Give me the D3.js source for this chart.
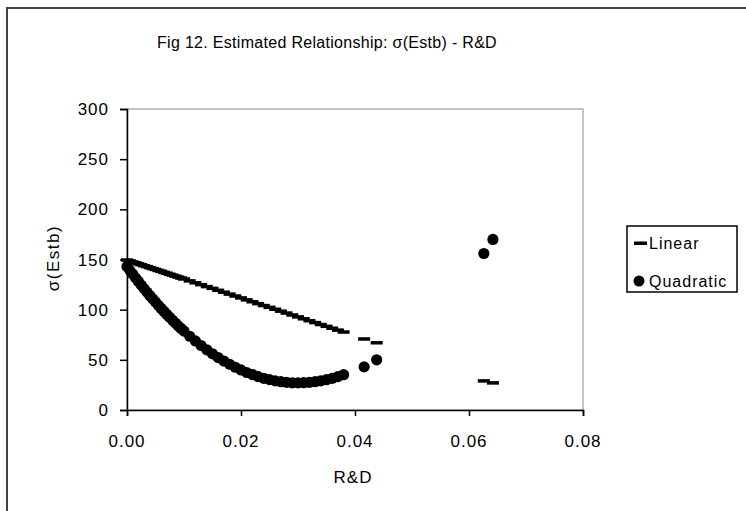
<!DOCTYPE html>
<html>
<head>
<meta charset="utf-8">
<script src="https://cdn.jsdelivr.net/npm/d3@7"></script>
<style>
  body { margin: 0; background: #fff; }
  text { font-family: "Liberation Sans", Arial, sans-serif; fill: #000; }
</style>
</head>
<body>
<div class="chart"></div>
<script>
const width = 746
const height = 511

// R&D values (shared by both series)
const rd = [0, 0.0005, 0.001, 0.0015, 0.002, 0.0025, 0.003, 0.0035, 0.004, 0.0045,
    0.005, 0.0055, 0.006, 0.0065, 0.007, 0.0075, 0.008, 0.0085, 0.009, 0.0095,
    0.010, 0.011, 0.012, 0.013, 0.014, 0.015, 0.016, 0.017, 0.018, 0.019,
    0.020, 0.021, 0.022, 0.023, 0.024, 0.025, 0.026, 0.027, 0.028, 0.029,
    0.030, 0.031, 0.032, 0.033, 0.034, 0.035, 0.036, 0.037, 0.038,
    0.0416, 0.0438, 0.0626, 0.0642]

const linear = [149.5, 148.6, 147.6, 146.7, 145.7, 144.8, 143.8, 142.9, 141.9, 141.0,
    140.1, 139.1, 138.2, 137.2, 136.3, 135.3, 134.4, 133.4, 132.5, 131.5,
    130.6, 128.7, 126.8, 124.9, 123.0, 121.2, 119.3, 117.4, 115.5, 113.6,
    111.7, 109.8, 107.9, 106.0, 104.1, 102.3, 100.4, 98.5, 96.6, 94.7,
    92.8, 90.9, 89.0, 87.1, 85.2, 83.4, 81.5, 79.6, 77.7,
    70.8, 67, 29, 27]

const quadratic = [143, 139.2, 135.4, 131.7, 128.1, 124.5, 121.0, 117.5, 114.1, 110.8,
    107.6, 104.4, 101.2, 98.2, 95.2, 92.3, 89.4, 86.6, 83.8, 81.2,
    78.6, 73.5, 68.8, 64.3, 60.0, 56.0, 52.3, 48.8, 45.6, 42.6,
    39.9, 37.4, 35.3, 33.3, 31.6, 30.3, 29.0, 28.2, 27.5, 27.1,
    27.0, 27.2, 27.5, 28.2, 29.1, 30.2, 31.6, 33.3, 35.2,
    43, 50, 156, 170]

const xTicks = [0, 0.02, 0.04, 0.06, 0.08]
const yTicks = [0, 50, 100, 150, 200, 250, 300]
const seriesNames = ["Linear", "Quadratic"]

const margin = { top: 109, right: 163, bottom: 101, left: 127 }
const innerWidth = width - margin.left - margin.right
const innerHeight = height - margin.top - margin.bottom

const svg = d3.select(".chart")
    .append("svg")
    .attr("width", width)
    .attr("height", height)

// outer frame (only top and left edges show)
svg.append("path")
    .attr("d", `M7,${height} V8 H${width}`)
    .attr("fill", "none")
    .attr("stroke", "#444")
    .attr("stroke-width", 2)

const xScale = d3.scaleLinear().domain([0, 0.08]).range([margin.left, margin.left + innerWidth])
const yScale = d3.scaleLinear().domain([0, 300]).range([margin.top + innerHeight, margin.top])

// plot area border
svg.append("rect")
    .attr("x", margin.left).attr("y", margin.top)
    .attr("width", innerWidth).attr("height", innerHeight)
    .attr("fill", "none")
    .attr("stroke", "#888")
    .attr("stroke-width", 1)

// tick labels
const fmt = d3.format(".2f")
svg.selectAll("text.xlab")
    .data(xTicks)
    .enter().append("text")
        .attr("class", "xlab")
        .attr("x", d => xScale(d))
        .attr("y", margin.top + innerHeight + 37)
        .attr("text-anchor", "middle")
        .attr("font-size", 17)
        .attr("letter-spacing", 1)
        .text(d => fmt(d))

svg.selectAll("text.ylab")
    .data(yTicks)
    .enter().append("text")
        .attr("class", "ylab")
        .attr("x", margin.left - 18)
        .attr("y", d => yScale(d) + 6)
        .attr("text-anchor", "end")
        .attr("font-size", 17)
        .attr("letter-spacing", 1)
        .text(d => d)

// axes: lines and ticks from d3
const xAxis = svg.append("g")
    .attr("transform", `translate(0, ${margin.top + innerHeight})`)
    .call(d3.axisBottom(xScale).tickValues(xTicks).tickFormat("").tickSize(6))

const yAxis = svg.append("g")
    .attr("transform", `translate(${margin.left}, 0)`)
    .call(d3.axisLeft(yScale).tickValues(yTicks).tickFormat("").tickSize(7))

;[xAxis, yAxis].forEach(a => {
    a.select(".domain").attr("stroke", "#000").attr("stroke-width", 1.5)
    a.selectAll(".tick line").attr("stroke", "#000").attr("stroke-width", 1.5)
    a.selectAll(".tick text").remove()
})

// linear series: dash markers
svg.selectAll("rect.lin")
    .data(rd.map((x, i) => ({x: x, y: linear[i]})))
    .enter().append("rect")
        .attr("class", "lin")
        .attr("x", d => xScale(d.x) - 6)
        .attr("y", d => yScale(d.y) - 1.75)
        .attr("width", 12)
        .attr("height", 3.5)
        .attr("fill", "#000")

// quadratic series: dot markers
svg.selectAll("circle.quad")
    .data(rd.map((x, i) => ({x: x, y: quadratic[i]})))
    .enter().append("circle")
        .attr("class", "quad")
        .attr("cx", d => xScale(d.x))
        .attr("cy", d => yScale(d.y))
        .attr("r", 5.6)
        .attr("fill", "#000")

// titles
svg.append("text")
    .attr("x", 327).attr("y", 48)
    .attr("text-anchor", "middle")
    .attr("font-size", 16)
    .attr("letter-spacing", 0.3)
    .text("Fig 12. Estimated Relationship: σ(Estb) - R&D")

svg.append("text")
    .attr("x", margin.left + innerWidth / 2 - 2).attr("y", 483)
    .attr("text-anchor", "middle")
    .attr("font-size", 17)
    .attr("letter-spacing", 1)
    .text("R&D")

svg.append("text")
    .attr("transform", "translate(59, 258) rotate(-90)")
    .attr("text-anchor", "middle")
    .attr("font-size", 17)
    .attr("letter-spacing", 1.5)
    .text("σ(Estb)")

// legend
const legend = svg.append("g").attr("transform", "translate(627, 226)")
legend.append("rect")
    .attr("width", 110).attr("height", 66)
    .attr("fill", "#fff")
    .attr("stroke", "#000")
    .attr("stroke-width", 1.5)

legend.append("rect")
    .attr("x", 7).attr("y", 15.5)
    .attr("width", 13).attr("height", 3.5)
    .attr("fill", "#000")
legend.append("circle")
    .attr("cx", 12).attr("cy", 55)
    .attr("r", 5.5)
    .attr("fill", "#000")

legend.selectAll("text.lab")
    .data(seriesNames)
    .enter().append("text")
        .attr("class", "lab")
        .attr("x", 22)
        .attr("y", (d, i) => 23 + i * 38)
        .attr("font-size", 16)
        .attr("letter-spacing", 1)
        .text(d => d)
</script>
</body>
</html>
